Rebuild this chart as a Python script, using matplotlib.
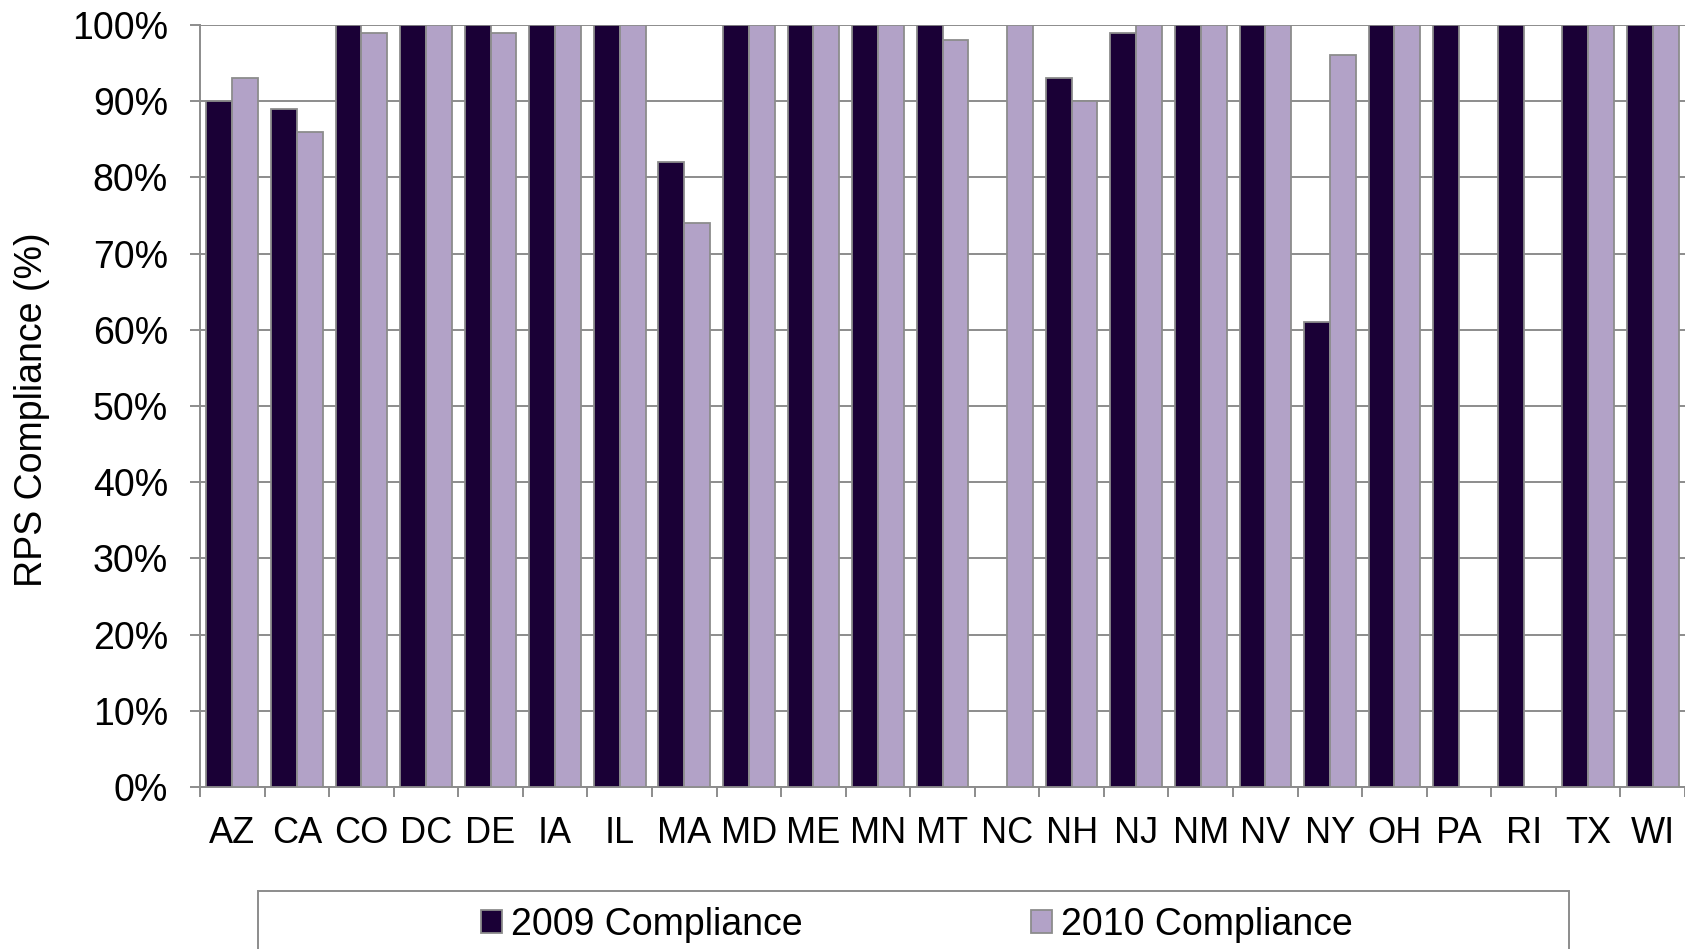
import numpy as np
import matplotlib.pyplot as plt
from matplotlib.patches import Rectangle
from matplotlib.ticker import FuncFormatter

states = ["AZ", "CA", "CO", "DC", "DE", "IA", "IL", "MA", "MD", "ME", "MN", "MT",
          "NC", "NH", "NJ", "NM", "NV", "NY", "OH", "PA", "RI", "TX", "WI"]
comp_2009 = [90, 89, 100, 100, 100, 100, 100, 82, 100, 100, 100, 100,
             np.nan, 93, 99, 100, 100, 61, 100, 100, 100, 100, 100]
comp_2010 = [93, 86, 99, 100, 99, 100, 100, 74, 100, 100, 100, 98,
             100, 90, 100, 100, 100, 96, 100, np.nan, np.nan, 100, 100]
series_names = ["2009 Compliance", "2010 Compliance"]

dark = "#1a0036"
light = "#b2a2c7"
grey = "#8c8c8c"

plt.rcParams["font.family"] = ["Liberation Sans", "DejaVu Sans"]
fs = 27

W, H = 1685, 949
fig = plt.figure(figsize=(W / 100, H / 100), dpi=100)
ax = fig.add_axes([200 / W, 1 - 787 / H, (W - 200) / W, (787 - 25) / H])

x = np.arange(len(states))
bw = 0.4
ax.bar(x - bw / 2, comp_2009, bw, color=dark, edgecolor=grey, linewidth=1.3,
       label=series_names[0], zorder=3)
ax.bar(x + bw / 2, comp_2010, bw, color=light, edgecolor=grey, linewidth=1.3,
       label=series_names[1], zorder=3)

ax.set_ylim(0, 100)
ax.set_xlim(-0.5, -0.5 + (W - 200) / 65)
ax.set_yticks(np.arange(0, 101, 10))
ax.yaxis.set_major_formatter(FuncFormatter(lambda v, p: "%d%%" % v))
ax.grid(axis="y", color=grey, linewidth=1.4, zorder=0)
ax.set_axisbelow(True)

# ticks between categories, labels at the centres
ax.set_xticks(np.arange(-0.5, len(states), 1))
ax.set_xticklabels([])
ax.set_xticks(x, minor=True)
ax.set_xticklabels(states, minor=True, fontsize=26)
ax.tick_params(axis="x", which="minor", length=0, pad=21)
ax.tick_params(axis="x", which="major", direction="out", length=7.5, width=1.4, color=grey)
ax.tick_params(axis="y", direction="out", length=7, width=1.4, color=grey,
               labelsize=fs, pad=16)

for s in ["top", "right"]:
    ax.spines[s].set_visible(False)
for s in ["left", "bottom"]:
    ax.spines[s].set_color(grey)
    ax.spines[s].set_linewidth(1.4)

fig.text(32 / W, 1 - 410 / H, "RPS Compliance (%)", rotation=90,
         ha="center", va="center", fontsize=fs)

# legend box (runs off the bottom of the picture)
fig.patches.append(Rectangle((258 / W, -0.02), (1569 - 258) / W, 0.02 + 1 - 891 / H,
                             transform=fig.transFigure, facecolor="white",
                             edgecolor=grey, linewidth=1.4))
leg = fig.legend(loc="center", bbox_to_anchor=(917 / W, 1 - 925 / H), ncol=2,
                 frameon=False, fontsize=fs, handlelength=0.55, handleheight=0.55,
                 handletextpad=0.25, columnspacing=6.1)

fig.savefig("out.png", dpi=100)
